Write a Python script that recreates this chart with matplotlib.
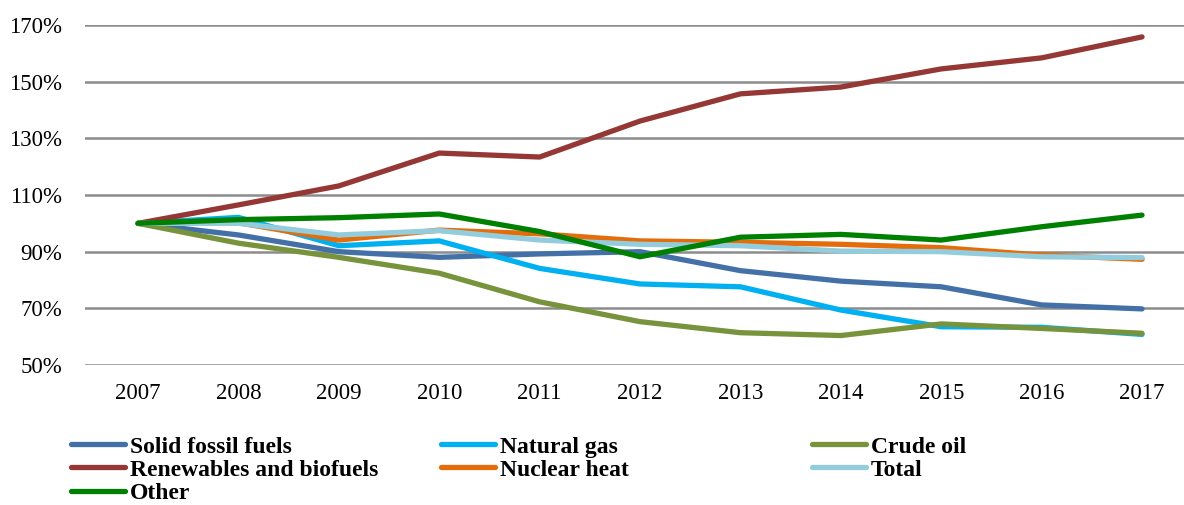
import matplotlib.pyplot as plt
from matplotlib.ticker import FuncFormatter

years = ['2007', '2008', '2009', '2010', '2011', '2012', '2013', '2014', '2015', '2016', '2017']

solid_fossil = [100, 95.9, 90.0, 88.0, 89.2, 90.0, 83.3, 79.6, 77.6, 71.2, 69.8]
natural_gas = [100, 102.1, 92.1, 93.8, 84.1, 78.6, 77.6, 69.4, 63.5, 63.3, 60.8]
crude_oil = [100, 93.0, 88.0, 82.4, 72.3, 65.3, 61.4, 60.4, 64.5, 62.9, 61.2]
renewables = [100, 106.5, 113.2, 124.8, 123.4, 136.1, 145.7, 148.1, 154.5, 158.4, 165.8]
nuclear = [100, 100.2, 94.1, 97.6, 96.3, 93.8, 93.3, 92.6, 91.4, 88.8, 87.3]
total = [100, 100.0, 95.9, 97.4, 94.1, 92.6, 92.1, 90.2, 90.0, 88.2, 87.9]
other = [100, 101.3, 102.0, 103.3, 97.1, 88.2, 95.1, 96.1, 94.1, 98.8, 102.9]

series = [
    ('Solid fossil fuels', solid_fossil, '#4470a8'),
    ('Natural gas', natural_gas, '#00b0f0'),
    ('Crude oil', crude_oil, '#77933c'),
    ('Renewables and biofuels', renewables, '#953735'),
    ('Nuclear heat', nuclear, '#e46c0a'),
    ('Total', total, '#93cddd'),
    ('Other', other, '#008000'),
]

plt.rcParams['font.family'] = ['Liberation Serif', 'DejaVu Serif']

fig = plt.figure(figsize=(11.84, 5.05), dpi=100)
ax = fig.add_axes([85 / 1184, 1 - 365 / 505, 1 - 85 / 1184, 340 / 505])

x = list(range(len(years)))
lines = {}
for name, vals, color in series:
    ln, = ax.plot(x, vals, color=color, lw=3.8, label=name,
                  solid_capstyle='round', solid_joinstyle='round')
    lines[name] = ln

ax.set_ylim(50, 170)
ax.set_xlim(-0.528, 10.418)
ax.set_yticks(range(50, 171, 20))
ax.yaxis.set_major_formatter(FuncFormatter(lambda v, p: f'{v:.0f}%'))
ax.set_xticks(x)
ax.set_xticklabels(years)
ax.tick_params(length=0, labelsize=16.5, colors='black')
ax.tick_params(axis='y', pad=16.5)
ax.tick_params(axis='x', pad=13)
for s in ax.spines.values():
    s.set_visible(False)
ax.grid(axis='y', color='#8c8c8c', lw=1.8)
ax.set_axisbelow(True)

# legend: three columns placed like the Excel one
cols = [
    (71, ['Solid fossil fuels', 'Renewables and biofuels', 'Other']),
    (441, ['Natural gas', 'Nuclear heat']),
    (812, ['Crude oil', 'Total']),
]
for xpix, names in cols:
    fig.legend([lines[n] for n in names], names, loc='upper left',
               bbox_to_anchor=(xpix / 1184, 1 - 436 / 505), frameon=False,
               borderpad=0, borderaxespad=0, handlelength=2.3,
               handletextpad=0.2, labelspacing=0.07,
               prop={'size': 17, 'weight': 'bold'})

fig.savefig('out.png', dpi=100)
